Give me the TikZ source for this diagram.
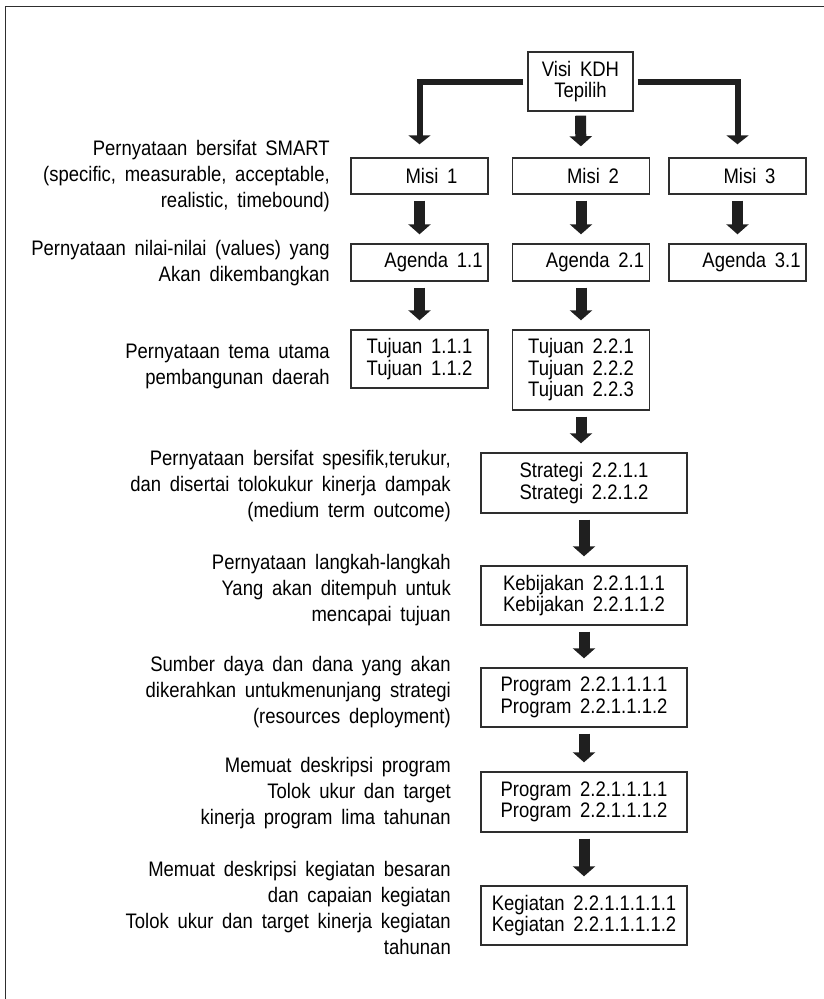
\documentclass[tikz,border=0pt]{standalone}
\usepackage{fontspec}
\setmainfont{Liberation Sans}[WordSpace=1.7, FakeStretch=0.88]
\usetikzlibrary{arrows.meta, positioning}
\definecolor{inkline}{HTML}{2e2e2e}
\definecolor{inkarrow}{HTML}{1f1f1f}

\begin{document}
\begin{tikzpicture}[
    x=1pt, y=-1pt,
    box/.style={rectangle, draw=inkline, line width=1.4pt, inner sep=0pt, align=center, font=\fontsize{21}{21.5}\selectfont},
    slim/.style={box, minimum width=137pt},
    wide/.style={box, minimum width=206pt, minimum height=59pt},
    note/.style={inner sep=0pt, anchor=east, align=right, font=\fontsize{21}{26}\selectfont},
    flow/.style={-{Triangle[width=22pt,length=10pt]}, line width=11pt, inkarrow, shorten <=6pt, shorten >=9pt},
    branch/.style={-{Triangle[width=22pt,length=9pt]}, line width=6pt, inkarrow, shorten <=4pt, shorten >=13pt}
]
\useasboundingbox (0,0) rectangle (824,999);
\draw[line width=1.8pt, inkline] (5.5,999) -- (5.5,6.5) -- (824,6.5);

% top of the tree
\node[box, minimum width=105pt, minimum height=59pt] (visi) at (580.5,81.5) {Visi KDH\\Tepilih};

\node[slim, minimum height=36pt] (misiA) at (419.5,176) {\hspace*{24pt}Misi 1};
\node[slim, minimum height=36pt] (misiB) at (581,176) {\hspace*{24pt}Misi 2};
\node[slim, minimum height=36pt] (misiC) at (737.5,176) {\hspace*{24pt}Misi 3};

\node[slim, minimum height=37pt] (agendaA) at (419.5,262.5) {\hspace*{28pt}Agenda 1.1};
\node[slim, minimum height=37pt] (agendaB) at (581,262.5) {\hspace*{28pt}Agenda 2.1};
\node[slim, minimum height=37pt] (agendaC) at (737.5,262.5) {\hspace*{28pt}Agenda 3.1};

\node[slim, minimum height=58pt] (tujA) at (419.5,359) {Tujuan 1.1.1\\Tujuan 1.1.2};
\node[slim, minimum height=80pt] (tujB) at (581,370) {Tujuan 2.2.1\\Tujuan 2.2.2\\Tujuan 2.2.3};

% single column below
\node[wide, minimum height=60pt] (strat) at (584,483) {Strategi 2.2.1.1\\Strategi 2.2.1.2};
\node[wide] (bijak) at (584,595.5) {Kebijakan 2.2.1.1.1\\Kebijakan 2.2.1.1.2};
\node[wide] (progA) at (584,697.5) {Program 2.2.1.1.1.1\\Program 2.2.1.1.1.2};
\node[wide, minimum height=60pt] (progB) at (584,802) {Program 2.2.1.1.1.1\\Program 2.2.1.1.1.2};
\node[wide] (giat) at (584,915.5) {Kegiatan 2.2.1.1.1.1.1\\Kegiatan 2.2.1.1.1.1.2};

% descriptions on the left
\node[note] (smart) at (330,176) {Pernyataan bersifat SMART\\(specific, measurable, acceptable,\\realistic, timebound)};
\node[note] (nilai) at (330,263) {Pernyataan nilai-nilai (values) yang\\Akan dikembangkan};
\node[note] (tema) at (330,366) {Pernyataan tema utama\\pembangunan daerah};
\node[note] (spesifik) at (451,486) {Pernyataan bersifat spesifik,terukur,\\dan disertai tolokukur kinerja dampak\\(medium term outcome)};
\node[note] (langkah) at (451,590) {Pernyataan langkah-langkah\\Yang akan ditempuh untuk\\mencapai tujuan};
\node[note] (sumber) at (451,692) {Sumber daya dan dana yang akan\\dikerahkan untukmenunjang strategi\\(resources deployment)};
\node[note] (deskprog) at (451,793) {Memuat deskripsi program\\Tolok ukur dan target\\kinerja program lima tahunan};
\node[note] (deskgiat) at (451,908) {Memuat deskripsi kegiatan besaran\\dan capaian kegiatan\\Tolok ukur dan target kinerja kegiatan\\tahunan};

% connectors
\draw[branch] (visi.west) -| (misiA.north);
\draw[branch] (visi.east) -| (misiC.north);
\draw[flow, shorten <=4pt, shorten >=11pt] (visi.south) -- (misiB.north);

\draw[flow] (misiA) -- (agendaA);
\draw[flow] (misiB) -- (agendaB);
\draw[flow] (misiC) -- (agendaC);
\draw[flow] (agendaA) -- (tujA);
\draw[flow] (agendaB) -- (tujB);

\draw[flow] (tujB.south) -- (tujB.south |- strat.north);
\draw[flow] (strat) -- (bijak);
\draw[flow] (bijak) -- (progA);
\draw[flow] (progA) -- (progB);
\draw[flow] (progB) -- (giat);
\end{tikzpicture}
\end{document}
